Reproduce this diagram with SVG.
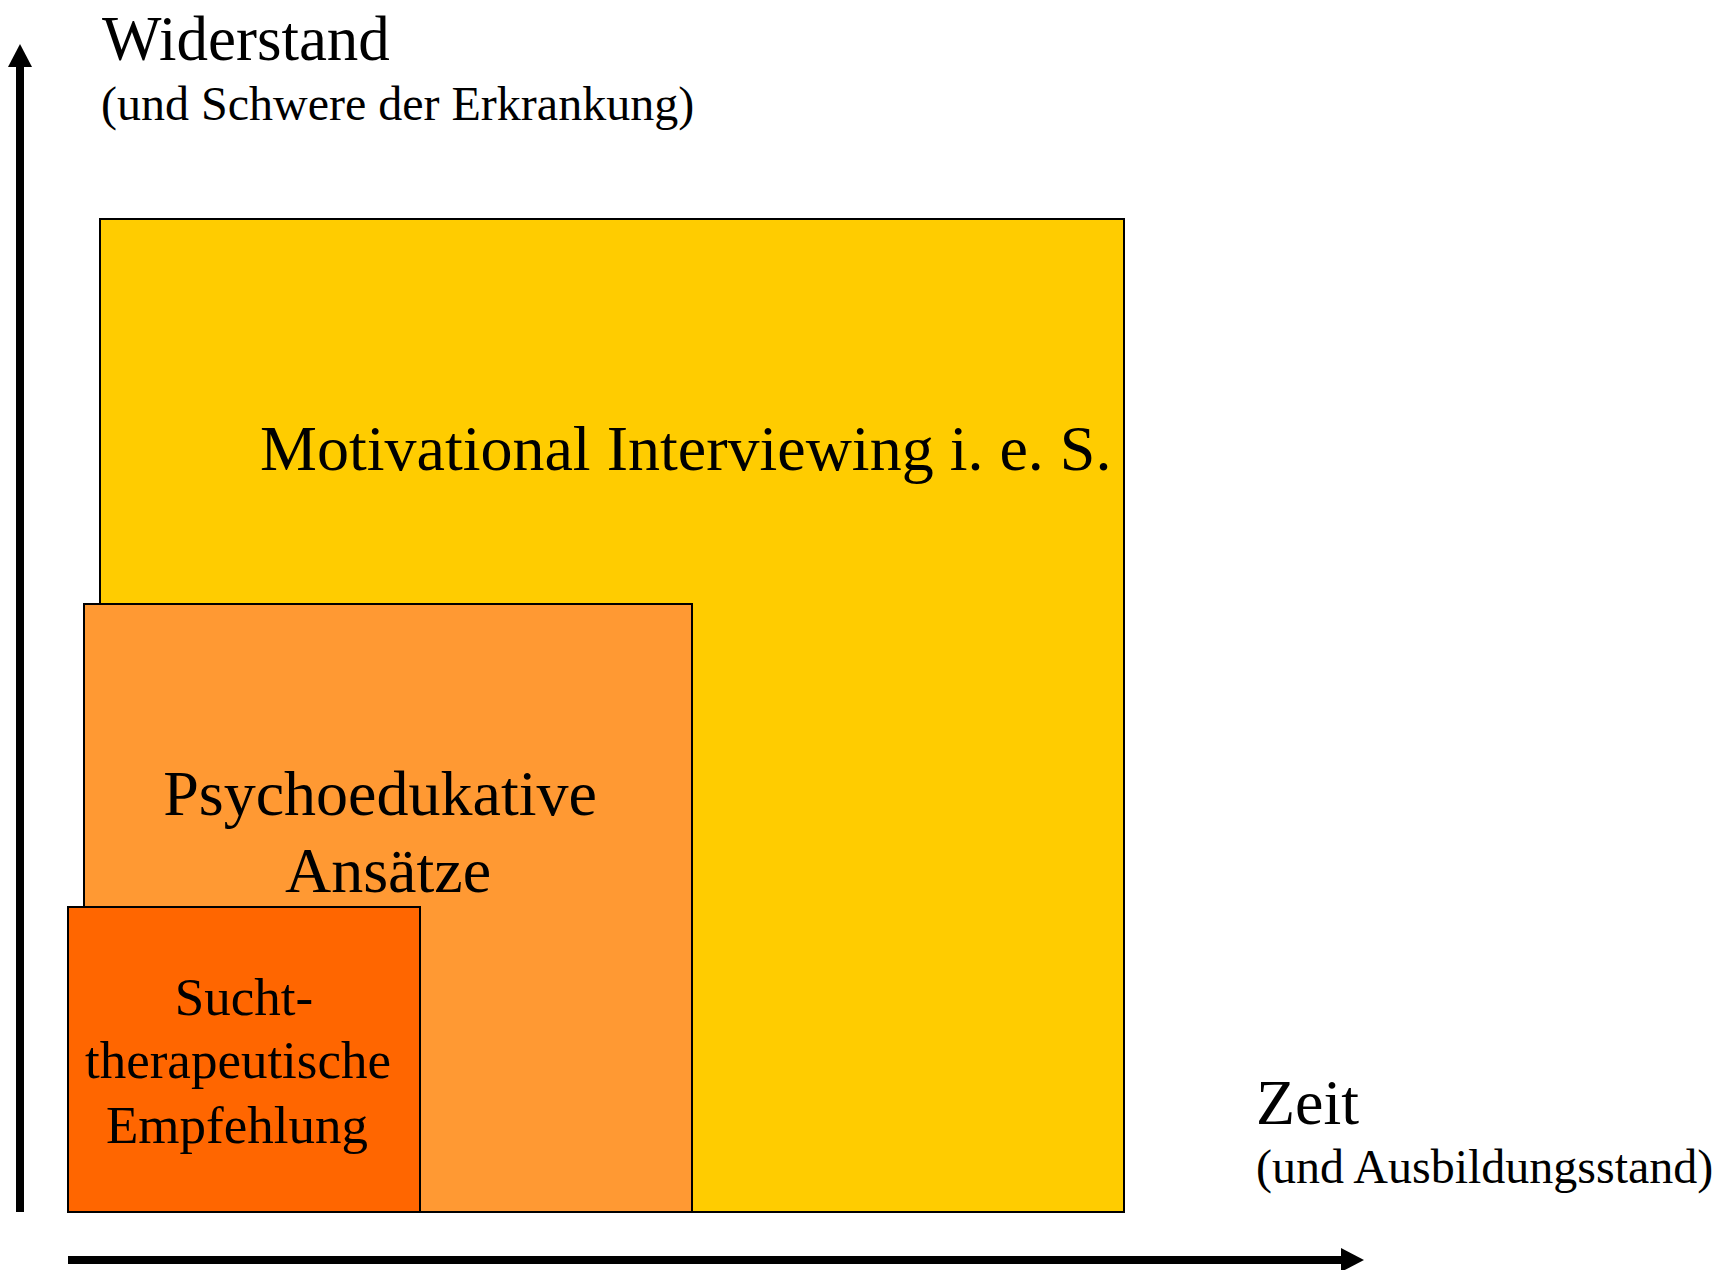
<svg xmlns="http://www.w3.org/2000/svg" width="1720" height="1270" viewBox="0 0 1720 1270">
<style>
text{font-family:"Liberation Serif","Times New Roman",serif;fill:#000}
.box{stroke:#000;stroke-width:2}
.axis{stroke:#000;stroke-width:8;fill:none}
</style>
<defs>
<marker id="ah" markerUnits="userSpaceOnUse" markerWidth="24" markerHeight="24" refX="0" refY="12" orient="auto" viewBox="0 0 24 24">
<path d="M0,0 L23,12 L0,24 Z" fill="#000"/>
</marker>
</defs>
<rect width="1720" height="1270" fill="#fff"/>
<g id="connectors">
<line class="axis" x1="20" y1="1212" x2="20" y2="67" marker-end="url(#ah)"/>
<line class="axis" x1="68" y1="1260" x2="1341" y2="1260" marker-end="url(#ah)"/>
</g>
<g id="mi">
<rect class="box" x="100" y="219" width="1024" height="993" fill="#FFCC00"/>
<text x="260" y="470" font-size="64">Motivational Interviewing i. e. S.</text>
</g>
<g id="psycho">
<rect class="box" x="84" y="604" width="608" height="608" fill="#FF9933"/>
<text x="380" y="815" font-size="64" text-anchor="middle">Psychoedukative</text>
<text x="388" y="892" font-size="64" text-anchor="middle">Ansätze</text>
</g>
<g id="sucht">
<rect class="box" x="68" y="907" width="352" height="305" fill="#FF6600"/>
<text x="244" y="1015" font-size="53" text-anchor="middle">Sucht-</text>
<text x="238" y="1078" font-size="53" text-anchor="middle">therapeutische</text>
<text x="237" y="1143" font-size="53" text-anchor="middle">Empfehlung</text>
</g>
<g id="y-label">
<text x="102" y="60" font-size="63">Widerstand</text>
<text x="101" y="120" font-size="48">(und Schwere der Erkrankung)</text>
</g>
<g id="x-label">
<text x="1256" y="1124" font-size="64">Zeit</text>
<text x="1256" y="1183" font-size="48">(und Ausbildungsstand)</text>
</g>
</svg>
